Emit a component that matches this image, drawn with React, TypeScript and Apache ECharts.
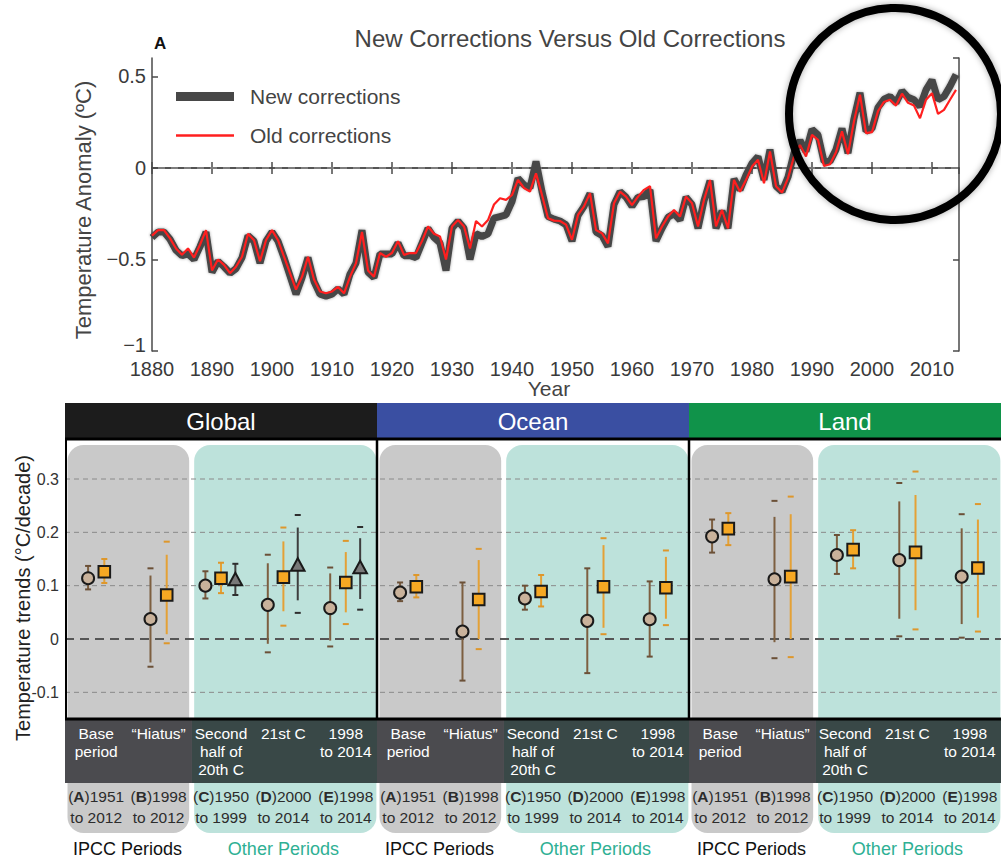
import React, { useEffect, useRef } from 'react';
import * as echarts from 'echarts';

// ---------- Panel A: annual temperature anomaly (°C), 1880-2014 ----------
const START_YEAR = 1880;
const newCorrections = [
  -0.38, -0.35, -0.35, -0.39, -0.45, -0.48, -0.47, -0.5, -0.43, -0.35,
  -0.57, -0.51, -0.54, -0.575, -0.55, -0.49, -0.37, -0.4, -0.52, -0.4,
  -0.35, -0.4, -0.49, -0.59, -0.69, -0.6, -0.49, -0.62, -0.69, -0.7,
  -0.69, -0.66, -0.69, -0.58, -0.52, -0.34, -0.57, -0.6, -0.47, -0.47,
  -0.47, -0.41, -0.48, -0.48, -0.49, -0.41, -0.33, -0.38, -0.41, -0.56,
  -0.33, -0.29, -0.33, -0.5, -0.36, -0.375, -0.36, -0.275, -0.266, -0.257,
  -0.184, -0.057, -0.093, -0.11, 0.035, -0.13, -0.266, -0.28, -0.29, -0.31,
  -0.4, -0.26, -0.21, -0.14, -0.35, -0.37, -0.43, -0.2, -0.13, -0.16,
  -0.21, -0.16, -0.157, -0.12, -0.4, -0.33, -0.27, -0.25, -0.285, -0.16,
  -0.2, -0.33, -0.18, -0.07, -0.33, -0.235, -0.33, -0.06, -0.12, -0.04,
  0.025, 0.062, -0.065, 0.1, -0.1, -0.13, -0.05, 0.08, 0.15, 0.09,
  0.21, 0.18, 0.035, 0.035, 0.1, 0.215, 0.08, 0.27, 0.41, 0.2,
  0.215, 0.33, 0.375, 0.39, 0.355, 0.42, 0.385, 0.372, 0.335, 0.426,
  0.48, 0.372, 0.39, 0.445, 0.51,
];
const oldCorrections = [
  -0.37, -0.34, -0.34, -0.385, -0.44, -0.475, -0.44, -0.49, -0.42, -0.34,
  -0.56, -0.5, -0.53, -0.575, -0.54, -0.485, -0.36, -0.395, -0.51, -0.395,
  -0.34, -0.395, -0.485, -0.575, -0.665, -0.595, -0.485, -0.61, -0.675, -0.685,
  -0.675, -0.65, -0.685, -0.595, -0.52, -0.35, -0.56, -0.595, -0.465, -0.485,
  -0.465, -0.4, -0.475, -0.465, -0.465, -0.4, -0.32, -0.36, -0.375, -0.5,
  -0.32, -0.285, -0.32, -0.44, -0.29, -0.32, -0.285, -0.2, -0.166, -0.175,
  -0.148, -0.066, -0.11, -0.13, -0.03, -0.148, -0.275, -0.288, -0.29, -0.31,
  -0.393, -0.257, -0.21, -0.138, -0.34, -0.357, -0.412, -0.193, -0.13, -0.157,
  -0.203, -0.157, -0.12, -0.1, -0.385, -0.32, -0.266, -0.23, -0.266, -0.157,
  -0.193, -0.32, -0.175, -0.066, -0.32, -0.23, -0.33, -0.066, -0.13, -0.066,
  0.007, 0.044, -0.084, 0.09, -0.1, -0.135, -0.056, 0.062, 0.125, 0.062,
  0.18, 0.153, 0.01, 0.02, 0.085, 0.2, 0.075, 0.255, 0.4, 0.19,
  0.195, 0.31, 0.36, 0.372, 0.34, 0.405, 0.355, 0.34, 0.271, 0.372,
  0.408, 0.295, 0.317, 0.372, 0.426,
];

// ---------- Panel B: trends (°C/decade) ----------
const regions = ['Global', 'Ocean', 'Land'];
const regionColors = ['#1c1c1c', '#3a4fa2', '#10934a'];
const periodNames = ['Base\nperiod', '“Hiatus”', 'Second\nhalf of\n20th C', '21st C', '1998\nto 2014'];
const periodLetters = ['A', 'B', 'C', 'D', 'E'];
const periodStart = ['1951', '1998', '1950', '2000', '1998'];
const periodEnd = ['to 2012', 'to 2012', 'to 1999', 'to 2014', 'to 2014'];
const groupNames = ['IPCC Periods', 'Other Periods'];
const bottomTicks = [0.3, 0.2, 0.1, 0, -0.1];

// each entry: [trend, lineLow, lineHigh, capLow, capHigh]
const globalCircle = [
  [0.114, 0.093, 0.137, 0.093, 0.137],
  [0.0375, -0.044, 0.119, -0.052, 0.1325],
  [0.1, 0.076, 0.127, 0.076, 0.127],
  [0.064, -0.009, 0.142, -0.025, 0.158],
  [0.058, -0.003, 0.123, -0.014, 0.134],
];
const globalSquare = [
  [0.126, 0.105, 0.15, 0.105, 0.15],
  [0.0825, 0.009, 0.158, -0.008, 0.1825],
  [0.114, 0.086, 0.143, 0.086, 0.143],
  [0.116, 0.052, 0.183, 0.025, 0.209],
  [0.106, 0.05, 0.163, 0.028, 0.184],
];
const globalTriangle = [
  null,
  null,
  [0.11, 0.0825, 0.141, 0.0825, 0.141],
  [0.1375, 0.0725, 0.209, 0.049, 0.2325],
  [0.1325, 0.075, 0.189, 0.055, 0.21],
];
const oceanCircle = [
  [0.087, 0.071, 0.106, 0.071, 0.106],
  [0.014, -0.078, 0.106, -0.078, 0.106],
  [0.076, 0.055, 0.1, 0.055, 0.1],
  [0.034, -0.064, 0.1325, -0.064, 0.1325],
  [0.037, -0.033, 0.108, -0.033, 0.108],
];
const oceanSquare = [
  [0.098, 0.078, 0.12, 0.078, 0.12],
  [0.074, 0.0, 0.148, -0.019, 0.169],
  [0.089, 0.061, 0.12, 0.061, 0.12],
  [0.098, 0.021, 0.176, 0.009, 0.189],
  [0.096, 0.038, 0.154, 0.026, 0.166],
];
const landCircle = [
  [0.1925, 0.162, 0.224, 0.162, 0.224],
  [0.112, -0.006, 0.229, -0.036, 0.259],
  [0.1575, 0.122, 0.195, 0.122, 0.195],
  [0.148, 0.038, 0.258, 0.005, 0.2925],
  [0.117, 0.028, 0.2075, 0.0025, 0.234],
];
const landSquare = [
  [0.207, 0.176, 0.236, 0.176, 0.236],
  [0.117, 0.0, 0.234, -0.034, 0.267],
  [0.1675, 0.1325, 0.204, 0.1325, 0.204],
  [0.1625, 0.054, 0.27, 0.018, 0.314],
  [0.133, 0.04, 0.224, 0.014, 0.253],
];

const circles = [globalCircle, oceanCircle, landCircle];
const squares = [globalSquare, oceanSquare, landSquare];
const triangles = [globalTriangle, [null, null, null, null, null], [null, null, null, null, null]];

const FONT = '"Liberation Sans", Arial, Helvetica, sans-serif';

const MARK_STYLE: any = {
  circle: { fill: '#c9b29b', bar: '#7d5f40', cap: '#6b5037' },
  square: { fill: '#f6a823', bar: '#e4a136', cap: '#de972b' },
  triangle: { fill: '#787878', bar: '#3e3e3e', cap: '#2e2e2e' },
};

function buildMarkerData(kind: string) {
  const out: any[] = [];
  regions.forEach((_, p) => {
    for (let j = 0; j < 5; j++) {
      const hasTri = triangles[p][j] != null;
      const off: any = hasTri
        ? { circle: -0.25, square: 0, triangle: 0.23 }
        : { circle: -0.13, square: 0.13, triangle: 0 };
      const src = kind === 'circle' ? circles[p][j] : kind === 'square' ? squares[p][j] : triangles[p][j];
      if (!src) continue;
      out.push([p * 5 + j + 0.5 + off[kind], ...src]);
    }
  });
  return out;
}

function markerRenderer(kind: string) {
  return (params: any, api: any) => {
    const x = api.value(0);
    const c = api.coord([x, api.value(1)]);
    const lo = api.coord([x, api.value(2)])[1];
    const hi = api.coord([x, api.value(3)])[1];
    const clo = api.coord([x, api.value(4)])[1];
    const chi = api.coord([x, api.value(5)])[1];
    const st = MARK_STYLE[kind];
    const children: any[] = [
      { type: 'line', shape: { x1: c[0], y1: lo, x2: c[0], y2: hi }, style: { stroke: st.bar, lineWidth: 2 } },
      { type: 'line', shape: { x1: c[0] - 3, y1: clo, x2: c[0] + 3, y2: clo }, style: { stroke: st.cap, lineWidth: 2 } },
      { type: 'line', shape: { x1: c[0] - 3, y1: chi, x2: c[0] + 3, y2: chi }, style: { stroke: st.cap, lineWidth: 2 } },
    ];
    const ms = { fill: st.fill, stroke: '#1a1a1a', lineWidth: 2 };
    if (kind === 'circle') {
      children.push({ type: 'circle', shape: { cx: c[0], cy: c[1], r: 6 }, style: ms });
    } else if (kind === 'square') {
      children.push({ type: 'rect', shape: { x: c[0] - 5.8, y: c[1] - 5.8, width: 11.6, height: 11.6 }, style: ms });
    } else {
      children.push({
        type: 'polygon',
        shape: { points: [[c[0], c[1] - 7.5], [c[0] - 6.8, c[1] + 5], [c[0] + 6.8, c[1] + 5]] },
        style: ms,
      });
    }
    return { type: 'group', children };
  };
}

export default function App() {
  const ref = useRef<HTMLDivElement>(null);

  useEffect(() => {
    if (!ref.current) return;
    const chart = echarts.init(ref.current, undefined, { renderer: 'svg' });

    const newData = newCorrections.map((v, i) => [START_YEAR + i, v]);
    const oldData = oldCorrections.map((v, i) => [START_YEAR + i, v]);

    const axisLineTop = { show: true, lineStyle: { color: '#4a4a4a', width: 1.5 } };

    const option: any = {
      animation: false,
      backgroundColor: '#ffffff',
      textStyle: { fontFamily: FONT },
      legend: [
        {
          data: ['New corrections'], left: 176, top: 86, itemWidth: 58, itemHeight: 9, icon: 'rect',
          selectedMode: false, padding: 0,
          textStyle: { fontSize: 21, color: '#444', fontFamily: FONT, padding: [0, 0, 0, 11] },
        },
        {
          data: ['Old corrections'], left: 176, top: 125, itemWidth: 58, itemHeight: 2.5, icon: 'rect',
          selectedMode: false, padding: 0,
          textStyle: { fontSize: 21, color: '#444', fontFamily: FONT, padding: [0, 0, 0, 11] },
        },
      ],
      grid: [
        { left: 152, right: 42, top: 58, bottom: 509, containLabel: false },
        { left: 65, right: 0, top: 439, bottom: 141, containLabel: false },
      ],
      xAxis: [
        {
          gridIndex: 0, type: 'value', min: 1880, max: 2014.5, interval: 10, position: 'bottom',
          axisLine: axisLineTop, axisTick: { inside: true, length: 6, lineStyle: { color: '#4a4a4a', width: 1.5 } },
          axisLabel: {
            fontSize: 20, color: '#3a3a3a', margin: 8, showMaxLabel: false, fontFamily: FONT,
            formatter: (v: number) => String(Math.round(v)),
          },
          splitLine: { show: false },
        },
        {
          gridIndex: 0, type: 'value', min: 1880, max: 2014.5, interval: 10, position: 'top',
          axisLine: axisLineTop, axisTick: { inside: true, length: 6, lineStyle: { color: '#4a4a4a', width: 1.5 } },
          axisLabel: { show: false }, splitLine: { show: false },
        },
        { gridIndex: 1, type: 'value', min: 0, max: 15, show: false },
      ],
      yAxis: [
        {
          gridIndex: 0, type: 'value', min: -1, max: 0.6, interval: 0.5, position: 'left',
          axisLine: axisLineTop, axisTick: { inside: true, length: 6, lineStyle: { color: '#4a4a4a', width: 1.5 } },
          axisLabel: {
            fontSize: 20, color: '#3a3a3a', margin: 6, showMaxLabel: false, fontFamily: FONT,
            formatter: (v: number) => {
              if (Math.abs(v) < 1e-9) return '0';
              const s = String(v).replace('-', '−');
              return v <= -0.999 ? `{m|${s}}` : s;
            },
            rich: { m: { fontSize: 20, color: '#3a3a3a', fontFamily: FONT, padding: [0, 0, 12, 0] } },
          },
          splitLine: { show: false },
        },
        {
          gridIndex: 0, type: 'value', min: -1, max: 0.6, interval: 0.5, position: 'right',
          axisLine: axisLineTop, axisTick: { inside: true, length: 6, lineStyle: { color: '#4a4a4a', width: 1.5 } },
          axisLabel: { show: false }, splitLine: { show: false },
        },
        {
          gridIndex: 1, type: 'value', min: -0.15, max: 0.375, interval: 0.05, position: 'left',
          axisLine: { show: false }, axisTick: { show: false }, splitLine: { show: false },
          axisLabel: {
            fontSize: 16, color: '#333', margin: 6, fontFamily: FONT,
            formatter: (v: number) => {
              const t = v * 10;
              if (Math.abs(t - Math.round(t)) > 1e-6) return '';
              if (!bottomTicks.some((b) => Math.abs(b - v) < 1e-6)) return '';
              return Math.abs(v) < 1e-9 ? '0' : v.toFixed(1);
            },
          },
        },
      ],
      graphic: [
        {
          type: 'text', left: 154, top: 35, z: 10,
          style: { text: 'A', fontSize: 17, fontWeight: 'bold', fill: '#111', fontFamily: FONT },
        },
        {
          type: 'text', x: 570, y: 38, z: 10,
          style: {
            text: 'New Corrections Versus Old Corrections', fontSize: 24, fill: '#444', fontFamily: FONT,
            align: 'center', verticalAlign: 'middle',
          },
        },
        {
          type: 'text', x: 83, y: 210, rotation: Math.PI / 2, z: 10,
          style: {
            text: 'Temperature Anomaly (ºC)', fontSize: 22, fill: '#444', fontFamily: FONT,
            align: 'center', verticalAlign: 'middle',
          },
        },
        {
          type: 'text', x: 549, y: 388, z: 10,
          style: { text: 'Year', fontSize: 21, fill: '#444', fontFamily: FONT, align: 'center', verticalAlign: 'middle' },
        },
        {
          type: 'text', x: 23, y: 598, rotation: Math.PI / 2, z: 10,
          style: {
            text: 'Temperature trends (°C/decade)', fontSize: 20, fill: '#222', fontFamily: FONT,
            align: 'center', verticalAlign: 'middle',
          },
        },
        {
          type: 'circle', z: 100, shape: { cx: 895, cy: 114, r: 106 },
          style: { fill: 'rgba(0,0,0,0)', stroke: '#000', lineWidth: 8, shadowBlur: 6, shadowColor: 'rgba(0,0,0,0.35)' },
        },
      ],
      series: [
        // zero reference line (top)
        {
          type: 'custom', name: 'zero', xAxisIndex: 0, yAxisIndex: 0, z: 1, silent: true, clip: false,
          data: [[1880, 0]],
          renderItem: (params: any, api: any) => {
            const cs = params.coordSys;
            const y = api.coord([1880, api.value(1)])[1];
            return {
              type: 'line', shape: { x1: cs.x + 6, y1: y, x2: cs.x + cs.width, y2: y },
              style: { stroke: '#8c8c8c', lineWidth: 1.5, lineDash: [7, 6] },
            };
          },
        },
        {
          type: 'line', name: 'New corrections', xAxisIndex: 0, yAxisIndex: 0, z: 2,
          data: newData, symbol: 'none', color: '#474747',
          lineStyle: { color: '#474747', width: 7, shadowBlur: 3, shadowColor: 'rgba(0,0,0,0.35)' },
        },
        {
          type: 'line', name: 'Old corrections', xAxisIndex: 0, yAxisIndex: 0, z: 3,
          data: oldData, symbol: 'none', color: '#ff1f1f',
          lineStyle: { color: '#ff1f1f', width: 2.2 },
        },
        // panel backgrounds
        {
          type: 'custom', name: 'backgrounds', xAxisIndex: 2, yAxisIndex: 2, z: 1, silent: true, clip: false,
          data: regions.map((_, p) => [p * 5, 0, p]),
          renderItem: (params: any, api: any) => {
            const p = api.value(2);
            const cs = params.coordSys;
            const X = (u: number) => api.coord([p * 5 + u, 0])[0];
            const top = cs.y + 6;
            const bottom = cs.y + cs.height + 114;
            return {
              type: 'group',
              children: [
                { type: 'rect', shape: { x: X(0.04), y: top, width: X(1.99) - X(0.04), height: bottom - top, r: 16 }, style: { fill: '#c9c9c9' } },
                { type: 'rect', shape: { x: X(2.07), y: top, width: X(4.99) - X(2.07), height: bottom - top, r: 16 }, style: { fill: '#bde2db' } },
              ],
            };
          },
        },
        // grid lines
        {
          type: 'custom', name: 'gridlines', xAxisIndex: 2, yAxisIndex: 2, z: 2, silent: true, clip: false,
          data: bottomTicks.map((v) => [0, v]),
          renderItem: (params: any, api: any) => {
            const cs = params.coordSys;
            const v = api.value(1);
            const y = api.coord([0, v])[1];
            const zero = Math.abs(v) < 1e-9;
            return {
              type: 'line', shape: { x1: cs.x, y1: y, x2: cs.x + cs.width, y2: y },
              style: zero
                ? { stroke: '#555', lineWidth: 1.8, lineDash: [9, 6] }
                : { stroke: '#8a8a8a', lineWidth: 1, lineDash: [5, 4] },
            };
          },
        },
        // markers
        {
          type: 'custom', name: 'circles', xAxisIndex: 2, yAxisIndex: 2, z: 3, silent: true, clip: false,
          data: buildMarkerData('circle'), renderItem: markerRenderer('circle'),
        },
        {
          type: 'custom', name: 'squares', xAxisIndex: 2, yAxisIndex: 2, z: 3, silent: true, clip: false,
          data: buildMarkerData('square'), renderItem: markerRenderer('square'),
        },
        {
          type: 'custom', name: 'triangles', xAxisIndex: 2, yAxisIndex: 2, z: 3, silent: true, clip: false,
          data: buildMarkerData('triangle'), renderItem: markerRenderer('triangle'),
        },
        // frame: headers, label band, borders, group labels
        {
          type: 'custom', name: 'frame', xAxisIndex: 2, yAxisIndex: 2, z: 5, silent: true, clip: false,
          data: regions.map((_, p) => [p * 5, 0, p]),
          renderItem: (params: any, api: any) => {
            const p = api.value(2);
            const cs = params.coordSys;
            const X = (u: number) => api.coord([p * 5 + u, 0])[0];
            const gTop = cs.y;
            const gBot = cs.y + cs.height;
            const x0 = X(0);
            const x1 = X(5);
            const children: any[] = [
              { type: 'rect', shape: { x: x0, y: gTop - 36, width: x1 - x0, height: 36 }, style: { fill: regionColors[p] } },
              {
                type: 'text', x: (x0 + x1) / 2, y: gTop - 18,
                style: { text: regions[p], fontSize: 24, fill: '#fff', fontFamily: FONT, align: 'center', verticalAlign: 'middle' },
              },
              { type: 'rect', shape: { x: x0, y: gBot, width: X(2.035) - x0, height: 64 }, style: { fill: '#4b4b4f' } },
              { type: 'rect', shape: { x: X(2.035), y: gBot, width: x1 - X(2.035), height: 64 }, style: { fill: '#394847' } },
              { type: 'line', shape: { x1: x0, y1: gTop, x2: x1, y2: gTop }, style: { stroke: '#000', lineWidth: 3 } },
              { type: 'line', shape: { x1: x0, y1: gBot, x2: x1, y2: gBot }, style: { stroke: '#000', lineWidth: 3 } },
              { type: 'line', shape: { x1: x0 + (p === 0 ? 1 : 0), y1: gTop, x2: x0 + (p === 0 ? 1 : 0), y2: gBot }, style: { stroke: '#000', lineWidth: p === 0 ? 2 : 2.5 } },
              {
                type: 'text', x: X(1.0), y: gBot + 130,
                style: { text: groupNames[0], fontSize: 18, fill: '#111', fontFamily: FONT, align: 'center', verticalAlign: 'middle' },
              },
              {
                type: 'text', x: X(3.5), y: gBot + 130,
                style: { text: groupNames[1], fontSize: 18, fill: '#2fb094', fontFamily: FONT, align: 'center', verticalAlign: 'middle' },
              },
            ];
            for (let j = 0; j < 5; j++) {
              const cx = X(j + 0.5);
              children.push({
                type: 'text', x: cx, y: gBot + 5,
                style: {
                  text: periodNames[j], fontSize: 15.5, lineHeight: 18, fill: '#fff', fontFamily: FONT,
                  align: 'center', verticalAlign: 'top',
                },
              });
              children.push({
                type: 'text', x: cx, y: gBot + 67,
                style: {
                  text: `{p|(}{b|${periodLetters[j]}}{p|)${periodStart[j]}}\n{p|${periodEnd[j]}}`,
                  align: 'center', verticalAlign: 'top', fontFamily: FONT,
                  rich: {
                    p: { fontSize: 15.5, fill: '#2c2c2c', lineHeight: 21, fontFamily: FONT },
                    b: { fontSize: 15.5, fill: '#2c2c2c', fontWeight: 'bold', lineHeight: 21, fontFamily: FONT },
                  },
                },
              });
            }
            return { type: 'group', children };
          },
        },
      ],
    };

    chart.setOption(option);
    return () => {
      chart.dispose();
    };
  }, []);

  return (
    <div
      ref={ref}
      style={{ position: 'absolute', left: 0, top: 0, width: 1001, height: 860, background: '#fff' }}
    />
  );
}
